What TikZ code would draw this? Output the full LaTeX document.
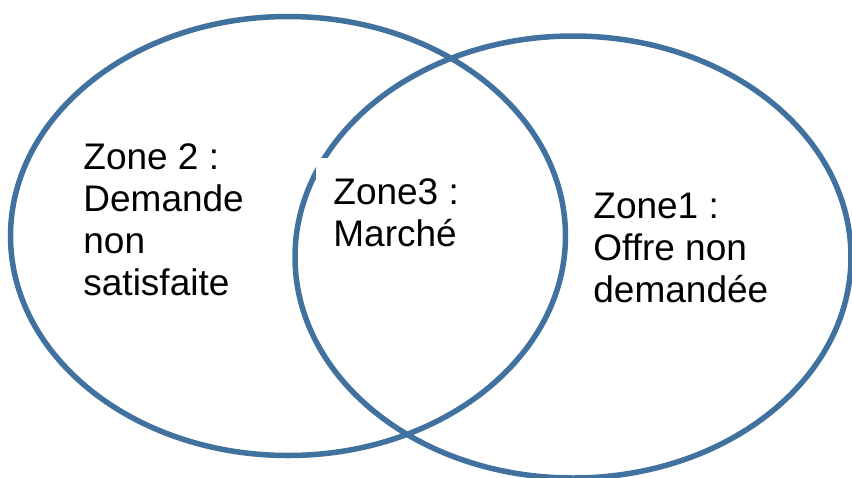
\documentclass[tikz,border=0pt]{standalone}
\usepackage{fontspec}
\setmainfont{Liberation Sans}
\usetikzlibrary{positioning}

\definecolor{zoneblue}{RGB}{65,113,158}

\begin{document}
\begin{tikzpicture}[
  x=0.5pt, y=-0.5pt,
  zone/.style={draw=zoneblue, line width=2.75pt},
  lbl/.style={anchor=north west, inner sep=0pt, align=left,
              font=\fontsize{18.5}{21}\selectfont}
]
  \useasboundingbox (0,0) rectangle (852,477);

  % demand and supply sets
  \coordinate (dem) at (288,236);
  \coordinate (off) at (573,257);
  \draw[zone] (dem) ellipse [x radius=138.75pt, y radius=109.75pt];
  \draw[zone] (off) ellipse [x radius=139pt, y radius=110.5pt];

  \node[lbl] (z2) at (83,143) {Zone 2 :\\Demande\\non\\satisfaite};
  \node[lbl] (z1) at (593,193) {Zone1 :\\Offre non\\demandée};
  \node[lbl, fill=white, inner xsep=8.5pt, inner ysep=10pt] (z3) at (316,158)
    {Zone3 :\\Marché};
\end{tikzpicture}
\end{document}
